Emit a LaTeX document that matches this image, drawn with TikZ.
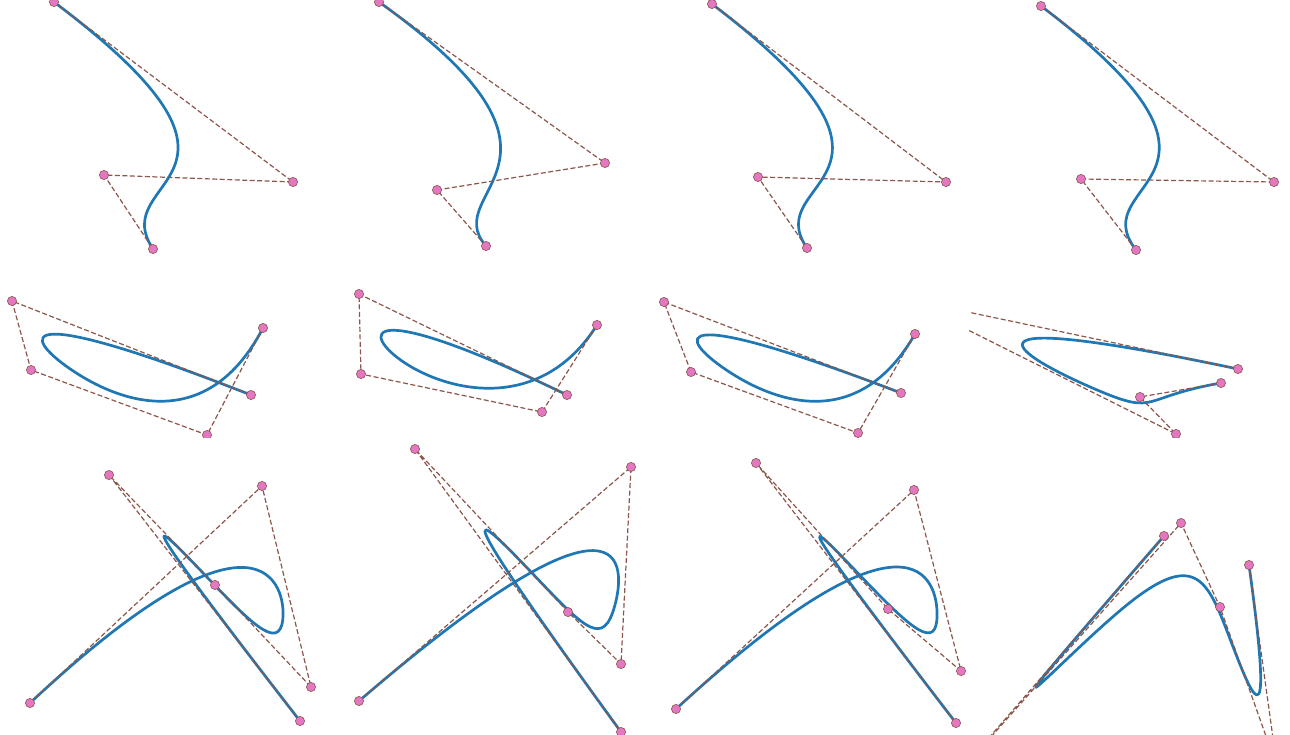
\documentclass[tikz,border=0pt]{standalone}
\usepackage{tikz}
\usetikzlibrary{calc}
\definecolor{myblue}{HTML}{1F77B4}
\definecolor{mybrown}{HTML}{8C564B}
\definecolor{mypink}{HTML}{E377C2}
\tikzset{
  curve/.style={myblue,line width=2.7pt,line join=round,line cap=round},
  ctrl/.style={mybrown,line width=1.2pt,dash pattern=on 5pt off 2.5pt},
  cpt/.style={fill=mypink,draw=mybrown,line width=0.6pt}
}
\begin{document}
\begin{tikzpicture}[x=1pt,y=-1pt]
  \useasboundingbox (0,0) rectangle (1290,735);
  \clip (0,0) rectangle (1290,735);

  % top row: four control points
  \coordinate (a0) at (54,2);    \coordinate (a1) at (293,182);
  \coordinate (a2) at (104,175); \coordinate (a3) at (153,249);
  \coordinate (b0) at (379,2);   \coordinate (b1) at (605,163);
  \coordinate (b2) at (437,190); \coordinate (b3) at (486,246);
  \coordinate (c0) at (712,4);   \coordinate (c1) at (946,182);
  \coordinate (c2) at (758,177); \coordinate (c3) at (807,248);
  \coordinate (d0) at (1041,6);  \coordinate (d1) at (1274,182);
  \coordinate (d2) at (1081,179);\coordinate (d3) at (1136,250);
  \foreach \q in {a,b,c,d}{
    \draw[curve] (\q0) .. controls (\q1) and (\q2) .. (\q3);
    \draw[ctrl] (\q0) -- (\q1) -- (\q2) -- (\q3);
    \filldraw[cpt] foreach \k in {0,1,2,3}{(\q\k) circle [radius=4.6]};
  }

  % middle row: five control points
  \coordinate (e0) at (263,328); \coordinate (e1) at (207,435);
  \coordinate (e2) at (31,370);  \coordinate (e3) at (12,301);
  \coordinate (e4) at (251,395);
  \coordinate (f0) at (597,325); \coordinate (f1) at (542,412);
  \coordinate (f2) at (361,374); \coordinate (f3) at (359,294);
  \coordinate (f4) at (567,395);
  \coordinate (g0) at (915,334); \coordinate (g1) at (858,433);
  \coordinate (g2) at (691,372); \coordinate (g3) at (664,302);
  \coordinate (g4) at (901,393);
  \coordinate (h0) at (1221,383); \coordinate (h1) at (1140,397);
  \coordinate (h2) at (1176,434); \coordinate (h3) at (906,299);
  \coordinate (h4) at (1238,369);
  \foreach \q/\xa/\xb in {e/0/330,f/330/650,g/650/969,h/969/1290}{
    \begin{scope}
      \clip (\xa,280) rectangle (\xb,437.5);
      \coordinate (\q12) at ($(\q1)!0.5!(\q2)$);
      \coordinate (\q23) at ($(\q2)!0.5!(\q3)$);
      \coordinate (\q m) at ($(\q12)!0.5!(\q23)$);
      \draw[curve] (\q0) .. controls (\q1) and (\q12) .. (\q m)
        .. controls (\q23) and (\q3) .. (\q4);
      \draw[ctrl] (\q0) -- (\q1) -- (\q2) -- (\q3) -- (\q4);
      \filldraw[cpt] foreach \k in {0,...,4}{(\q\k) circle [radius=4.6]};
    \end{scope}
  }

  % bottom row: six control points
  \coordinate (i0) at (30,703);  \coordinate (i1) at (262,486);
  \coordinate (i2) at (311,687); \coordinate (i3) at (215,585);
  \coordinate (i4) at (109,475); \coordinate (i5) at (300,721);
  \coordinate (j0) at (359,701); \coordinate (j1) at (631,467);
  \coordinate (j2) at (621,664); \coordinate (j3) at (568,612);
  \coordinate (j4) at (415,449); \coordinate (j5) at (621,732);
  \coordinate (k0) at (676,709); \coordinate (k1) at (914,490);
  \coordinate (k2) at (961,671); \coordinate (k3) at (888,609);
  \coordinate (k4) at (756,463); \coordinate (k5) at (956,723);
  \coordinate (l0) at (1164,536); \coordinate (l1) at (942,792);
  \coordinate (l2) at (1181,523); \coordinate (l3) at (1220,607);
  \coordinate (l4) at (1277,767); \coordinate (l5) at (1249,565);
  \foreach \q in {i,j,k,l}{
    \coordinate (\q12) at ($(\q1)!0.5!(\q2)$);
    \coordinate (\q23a) at ($(\q2)!0.3333!(\q3)$);
    \coordinate (\q23b) at ($(\q2)!0.6667!(\q3)$);
    \coordinate (\q34) at ($(\q3)!0.5!(\q4)$);
    \coordinate (\q s) at ($(\q12)!0.5!(\q23a)$);
    \coordinate (\q t) at ($(\q23b)!0.5!(\q34)$);
    \draw[curve] (\q0) .. controls (\q1) and (\q12) .. (\q s)
      .. controls (\q23a) and (\q23b) .. (\q t)
      .. controls (\q34) and (\q4) .. (\q5);
    \draw[ctrl] (\q0) -- (\q1) -- (\q2) -- (\q3) -- (\q4) -- (\q5);
    \filldraw[cpt] foreach \k in {0,...,5}{(\q\k) circle [radius=4.6]};
  }
\end{tikzpicture}
\end{document}
